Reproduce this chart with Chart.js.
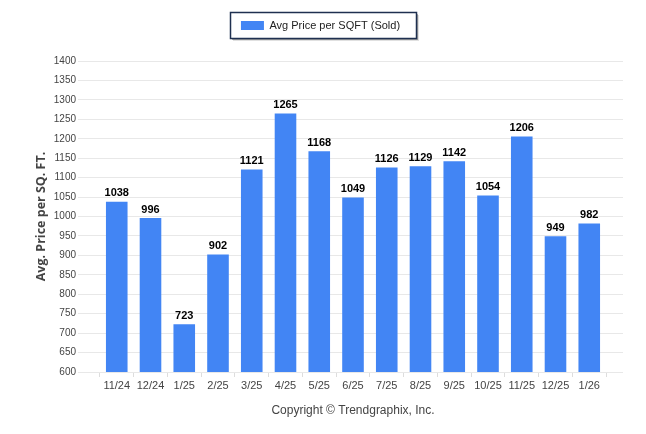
<!DOCTYPE html>
<html>
<head>
<meta charset="utf-8">
<script src="https://cdn.jsdelivr.net/npm/chart.js@4"></script>
<style>
html,body{margin:0;padding:0;background:#fff;}
#wrap{width:646px;height:434px;position:relative;}
</style>
</head>
<body>
<div id="wrap"><canvas id="c" width="646" height="434"></canvas></div>
<script>
const categories = ['11/24','12/24','1/25','2/25','3/25','4/25','5/25','6/25','7/25','8/25','9/25','10/25','11/25','12/25','1/26'];
const avgPriceSold = [1038, 996, 723, 902, 1121, 1265, 1168, 1049, 1126, 1129, 1142, 1054, 1206, 949, 982];
const yTicks = [600, 650, 700, 750, 800, 850, 900, 950, 1000, 1050, 1100, 1150, 1200, 1250, 1300, 1350, 1400];
const seriesLabel = 'Avg Price per SQFT (Sold)';
const yTitle = 'Avg. Price per SQ. FT.';
const copyright = 'Copyright \u00A9 Trendgraphix, Inc.';

// pad with empty slots at both ends so the axis spans one extra slot each side
const labels = [''].concat(categories, ['']);
const values = [null].concat(avgPriceSold, [null]);

const legendTweak = {
  id: 'legendTweak',
  afterInit(chart) {
    const lg = chart.legend;
    if (!lg) return;
    const f = lg.fit;
    lg.fit = function () { f.call(this); this.height += 20; };
  },
  afterLayout(chart) {
    const lg = chart.legend;
    if (!lg) return;
    lg.left -= 8; lg.right -= 8;
  },
  afterDraw(chart) {
    const lg = chart.legend;
    if (!lg || !lg.legendHitBoxes || !lg.legendHitBoxes.length) return;
    const hb = lg.legendHitBoxes[0];
    const ctx = chart.ctx;
    const x = Math.round(hb.left - 11), y = Math.round(hb.top - 8), w = Math.round(hb.width + 27), h = 26;
    ctx.save();
    ctx.fillStyle = 'rgba(0,0,0,0.12)';
    ctx.fillRect(x + 3, y + 3, w, h);
    ctx.fillStyle = 'rgba(0,0,0,0.3)';
    ctx.fillRect(x + 2, y + 2, w, h);
    ctx.fillStyle = '#fff';
    ctx.fillRect(x, y, w, h);
    ctx.strokeStyle = '#1f3050';
    ctx.lineWidth = 1.5;
    ctx.strokeRect(x + 0.5, y + 0.5, w, h);
    ctx.restore();
    lg.draw();
  }
};

const valueLabels = {
  id: 'valueLabels',
  afterDatasetsDraw(chart) {
    const ctx = chart.ctx;
    const meta = chart.getDatasetMeta(0);
    ctx.save();
    ctx.font = 'bold 11px "Liberation Sans", Arial, sans-serif';
    ctx.fillStyle = '#000';
    ctx.textAlign = 'center';
    ctx.textBaseline = 'bottom';
    meta.data.forEach((bar, i) => {
      const v = values[i];
      if (v == null) return;
      ctx.fillText(String(v), bar.x, bar.y - 3);
    });
    ctx.restore();
  }
};

new Chart(document.getElementById('c'), {
  type: 'bar',
  data: {
    labels: labels,
    datasets: [{
      label: seriesLabel,
      data: values,
      backgroundColor: '#4285f4',
      borderWidth: 0,
      categoryPercentage: 1,
      barPercentage: 0.64
    }]
  },
  options: {
    responsive: false,
    animation: false,
    devicePixelRatio: 1,
    layout: { padding: { left: 34, right: 23, top: 6, bottom: 0 } },
    plugins: {
      tooltip: { enabled: false },
      legend: {
        display: true,
        position: 'top',
        labels: {
          boxWidth: 23,
          boxHeight: 9,
          color: '#222',
          font: { family: '"Liberation Sans", Arial, sans-serif', size: 11 },
          padding: 14
        }
      }
    },
    scales: {
      x: {
        type: 'category',
        offset: false,
        grid: { drawOnChartArea: false, drawTicks: true, tickLength: 5, color: '#dddddd' },
        border: { display: false },
        ticks: {
          autoSkip: false,
          maxRotation: 0,
          color: '#444',
          padding: 2,
          font: { family: '"Liberation Sans", Arial, sans-serif', size: 11 }
        },
        title: {
          display: true,
          text: copyright,
          color: '#444',
          font: { family: '"Liberation Sans", Arial, sans-serif', size: 12 },
          padding: { top: 0, bottom: 16 }
        },
        afterFit(scale) { scale.height = 62; }
      },
      y: {
        min: 600,
        max: 1400,
        afterBuildTicks(scale) { scale.ticks = yTicks.map(v => ({ value: v })); },
        grid: { color: '#e8e8e8', tickLength: 5, drawTicks: true },
        border: { display: false },
        ticks: {
          color: '#444',
          padding: 2,
          font: { family: '"Liberation Sans", Arial, sans-serif', size: 10 },
          callback: (v) => String(v)
        },
        title: {
          display: true,
          text: yTitle,
          color: '#444',
          font: { family: '"Open Sans", sans-serif', size: 12.5, weight: 'bold' },
          padding: { top: 0, bottom: 0 }
        },
        afterFit(scale) { scale.width = 49; }
      }
    }
  },
  plugins: [legendTweak, valueLabels]
});
</script>
</body>
</html>
